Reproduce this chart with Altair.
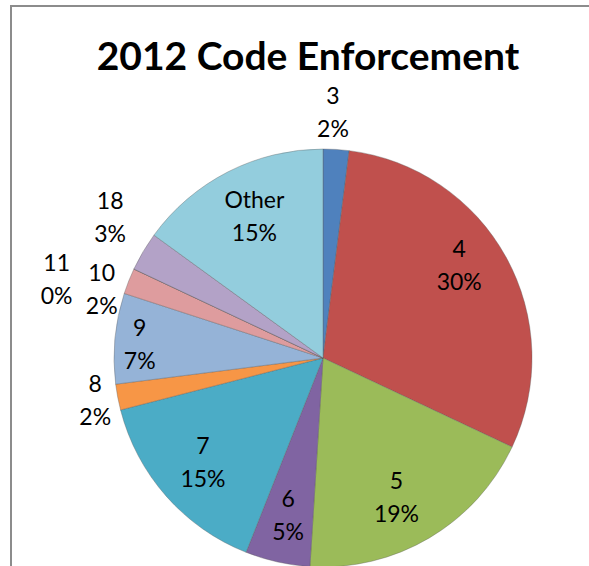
import json
import altair as alt
import pandas as pd

# ---- data ----
categories = ["3", "4", "5", "6", "7", "8", "9", "10", "11", "18", "Other"]
percents = [2, 30, 19, 5, 15, 2, 7, 2, 0, 3, 15]
colors = ["#4F81BD", "#C0504D", "#9BBB59", "#8064A2", "#4BACC6", "#F79646",
          "#95B3D7", "#DE9C9E", "#C3D69B", "#B3A2C7", "#93CDDD"]
title_text = "2012 Code Enforcement"

df = pd.DataFrame({
    "cat": categories,
    "pct": percents,
    "idx": list(range(len(categories))),
})

CX, CY, R = 323, 358, 209
FONT = "Lato"
DY0 = -14

base = alt.Chart(df).encode(
    theta=alt.Theta("pct:Q", stack=True),
    order=alt.Order("idx:Q", sort="ascending"),
    x=alt.value(CX),
    y=alt.value(CY),
)

pie = base.mark_arc(radius=R, stroke="#5a5a5a", strokeWidth=0.6, strokeOpacity=0.6).encode(
    color=alt.Color("cat:N", scale=alt.Scale(domain=categories, range=colors), legend=None)
)


def labels(cat_list, radius, dx=0, dy=0):
    expr = ("indexof(" + json.dumps(cat_list) + ", datum.cat) >= 0 ? "
            "datum.cat + '\\n' + datum.pct + '%' : ''")
    return base.transform_calculate(txt=expr).mark_text(
        radius=radius, dx=dx, dy=dy + DY0, font=FONT, fontSize=23,
        lineBreak="\n", lineHeight=33, color="black", align="center", baseline="middle",
    ).encode(text="txt:N", detail="cat:N")


layers = [
    pie,
    labels(["6"], 160),
    labels(["7"], 160, 0, -3),
    labels(["5"], 160, -8, 0),
    labels(["Other"], 160, 4, 0),
    labels(["4"], 160, -4, -17),
    labels(["9"], 160, -24, 0),
    labels(["3"], 238, -5, -9),
    labels(["8"], 238, 6, -4),
    labels(["10"], 238, 0, 18),
    labels(["11"], 238, -51, 21),
    labels(["18"], 238, -8, -21),
]

deco_df = pd.DataFrame({"k": [0]})
deco = alt.Chart(deco_df)
title = deco.mark_text(
    text=title_text, font=FONT, fontSize=39, fontWeight="bold", color="black",
    align="center", baseline="alphabetic",
).encode(x=alt.value(308), y=alt.value(70))
left_rule = deco.mark_rule(color="#8c8c8c", strokeWidth=2).encode(
    x=alt.value(11), y=alt.value(5), y2=alt.value(566))
top_rule = deco.mark_rule(color="#8c8c8c", strokeWidth=2).encode(
    x=alt.value(10), x2=alt.value(589), y=alt.value(6))

chart = alt.layer(left_rule, top_rule, *layers, title).properties(
    width=589, height=566,
    autosize=alt.AutoSizeParams(type="none"),
    padding=0,
).configure_view(strokeWidth=0)

chart.save("out.html", embed_options={"renderer": "svg", "actions": False})
